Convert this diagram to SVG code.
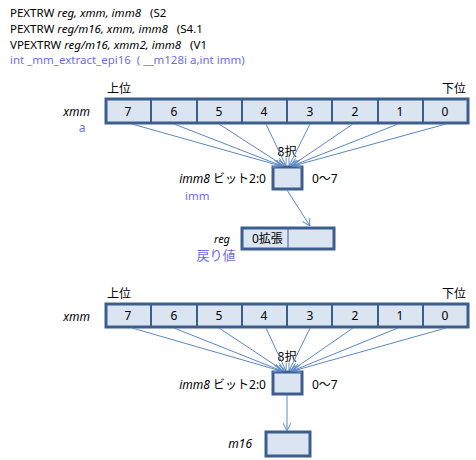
<svg xmlns="http://www.w3.org/2000/svg" width="476" height="460" viewBox="0 0 476 460">
<defs>
<style>
text{font-family:"Noto Sans","Noto Sans CJK JP",sans-serif;font-size:12px;fill:#000}
.h{font-size:11.5px}
.b{fill:#6e6ee0}
.i{font-style:italic}
.reg{fill:#dbe5f1;stroke:#3c5e8e;stroke-width:3}
.div{stroke:#3c5e8e;stroke-width:2}
.thin{stroke:#3c5e8e;stroke-width:1}
.c{text-anchor:middle}
.r{text-anchor:end}
.con line{stroke:#5b87c5;stroke-width:1;fill:none}
</style>
<marker id="ah" viewBox="0 0 10 10" refX="10" refY="5" markerWidth="8" markerHeight="8" orient="auto" markerUnits="userSpaceOnUse">
<path d="M0,0 L10,5 L0,10" fill="none" stroke="#5b87c5" stroke-width="1.2"/>
</marker>
</defs>
<rect width="476" height="460" fill="#fff"/>
<g id="header">
<text x="10" y="17" class="h">PEXTRW <tspan class="i">reg, xmm, imm8</tspan>&#160;&#160;&#160;(S2</text>
<text x="10" y="33" class="h">PEXTRW <tspan class="i">reg/m16, xmm, imm8</tspan>&#160;&#160;&#160;(S4.1</text>
<text x="10" y="49" class="h">VPEXTRW <tspan class="i">reg/m16, xmm2, imm8</tspan>&#160;&#160;&#160;(V1</text>
<text x="10" y="64" class="h b">int _mm_extract_epi16&#160;&#160;( __m128i a,int imm)</text>
</g>
<g id="xmm1">
<text x="107" y="93">上位</text>
<text x="466" y="93" class="r">下位</text>
<text x="90" y="116" class="i r">xmm</text>
<text x="82" y="132" class="b c">a</text>
<rect class="reg" x="106" y="99" width="362" height="24"/>
<g class="div">
<line x1="151" y1="99" x2="151" y2="123"/><line x1="197" y1="99" x2="197" y2="123"/><line x1="242" y1="99" x2="242" y2="123"/><line x1="287" y1="99" x2="287" y2="123"/><line x1="332" y1="99" x2="332" y2="123"/><line x1="378" y1="99" x2="378" y2="123"/><line x1="423" y1="99" x2="423" y2="123"/>
</g>
<text x="128" y="116" class="c">7</text><text x="174" y="116" class="c">6</text><text x="219" y="116" class="c">5</text><text x="264" y="116" class="c">4</text><text x="310" y="116" class="c">3</text><text x="355" y="116" class="c">2</text><text x="400" y="116" class="c">1</text><text x="445" y="116" class="c">0</text>
</g>
<g id="sel1">
<rect class="reg" x="273" y="167" width="29" height="22"/>
<text x="287" y="156" class="c">8択</text>
<text x="266" y="183" class="r"><tspan class="i">imm8</tspan> ビット2:0</text>
<text x="312" y="183">0〜7</text>
<text x="185" y="200" class="b" style="font-size:11.5px">imm</text>
</g>
<g id="reg">
<rect class="reg" x="242" y="228" width="92" height="21"/>
<line class="thin" x1="288" y1="228" x2="288" y2="249"/>
<text x="252" y="243">0拡張</text>
<text x="230" y="243" class="i r" style="font-size:11px">reg</text>
<text x="216" y="260" class="b c" style="font-size:13px">戻り値</text>
</g>
<g id="xmm2">
<text x="107" y="298">上位</text>
<text x="466" y="298" class="r">下位</text>
<text x="90" y="321" class="i r">xmm</text>
<rect class="reg" x="106" y="304" width="362" height="23"/>
<g class="div">
<line x1="151" y1="304" x2="151" y2="327"/><line x1="197" y1="304" x2="197" y2="327"/><line x1="242" y1="304" x2="242" y2="327"/><line x1="287" y1="304" x2="287" y2="327"/><line x1="332" y1="304" x2="332" y2="327"/><line x1="378" y1="304" x2="378" y2="327"/><line x1="423" y1="304" x2="423" y2="327"/>
</g>
<text x="128" y="320" class="c">7</text><text x="174" y="320" class="c">6</text><text x="219" y="320" class="c">5</text><text x="264" y="320" class="c">4</text><text x="310" y="320" class="c">3</text><text x="355" y="320" class="c">2</text><text x="400" y="320" class="c">1</text><text x="445" y="320" class="c">0</text>
</g>
<g id="sel2">
<rect class="reg" x="273" y="372" width="29" height="22"/>
<text x="287" y="361" class="c">8択</text>
<text x="266" y="389" class="r"><tspan class="i">imm8</tspan> ビット2:0</text>
<text x="312" y="389">0〜7</text>
</g>
<g id="m16">
<rect class="reg" x="266" y="432" width="44" height="24"/>
<text x="252" y="448" class="i r">m16</text>
</g>
<g class="con" id="connectors">
<line x1="132" y1="124" x2="281" y2="166" marker-end="url(#ah)"/>
<line x1="174" y1="124" x2="282" y2="166" marker-end="url(#ah)"/>
<line x1="219" y1="124" x2="284" y2="166" marker-end="url(#ah)"/>
<line x1="266" y1="124" x2="286" y2="166" marker-end="url(#ah)"/>
<line x1="310" y1="124" x2="289" y2="166" marker-end="url(#ah)"/>
<line x1="353" y1="124" x2="291" y2="166" marker-end="url(#ah)"/>
<line x1="398" y1="124" x2="292" y2="166" marker-end="url(#ah)"/>
<line x1="446" y1="124" x2="293" y2="166" marker-end="url(#ah)"/>
<line x1="287" y1="190" x2="310" y2="226" marker-end="url(#ah)"/>
<line x1="132" y1="328" x2="281" y2="371" marker-end="url(#ah)"/>
<line x1="174" y1="328" x2="282" y2="371" marker-end="url(#ah)"/>
<line x1="219" y1="328" x2="284" y2="371" marker-end="url(#ah)"/>
<line x1="266" y1="328" x2="286" y2="371" marker-end="url(#ah)"/>
<line x1="310" y1="328" x2="289" y2="371" marker-end="url(#ah)"/>
<line x1="353" y1="328" x2="291" y2="371" marker-end="url(#ah)"/>
<line x1="398" y1="328" x2="292" y2="371" marker-end="url(#ah)"/>
<line x1="446" y1="328" x2="293" y2="371" marker-end="url(#ah)"/>
<line x1="287" y1="395" x2="287" y2="431" marker-end="url(#ah)"/>
</g>
</svg>
